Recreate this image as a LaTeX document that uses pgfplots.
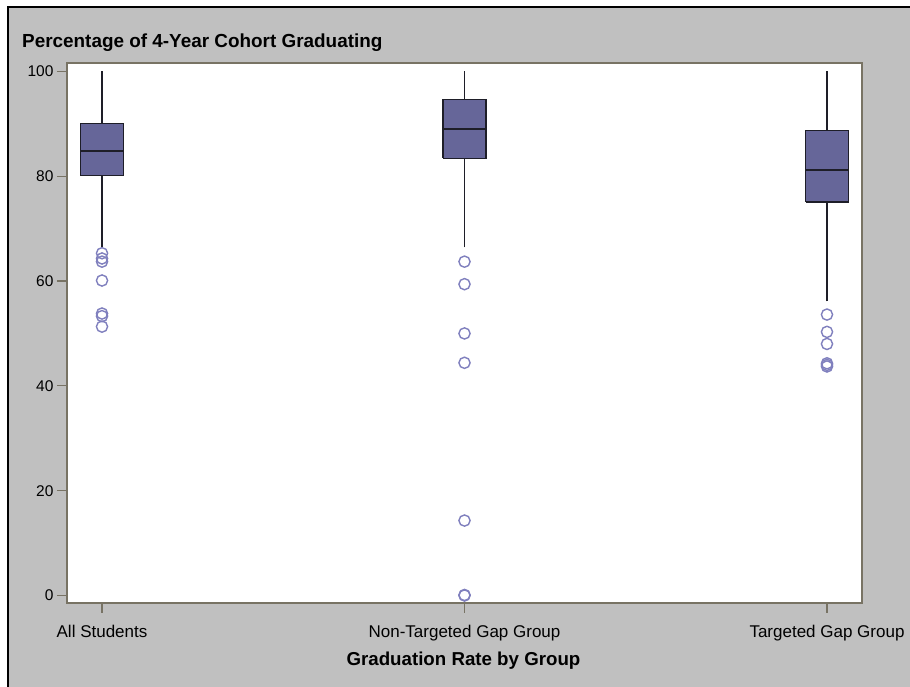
\documentclass[border=0pt]{standalone}
\usepackage{fontspec}
\setmainfont{Liberation Sans}
\usepackage{pgfplots}
\pgfplotsset{compat=1.18}
\definecolor{sasgray}{RGB}{192,192,192}
\definecolor{framecol}{RGB}{120,115,100}
\definecolor{boxfill}{RGB}{102,102,153}
\definecolor{boxedge}{RGB}{30,30,40}
\definecolor{outcol}{RGB}{128,128,190}
\begin{document}
\begin{tikzpicture}
\useasboundingbox (0bp,0bp) rectangle (910bp,687bp);
\fill[white] (0bp,0bp) rectangle (910bp,687bp);
\filldraw[fill=sasgray, draw=black, line width=1.5bp] (8bp,-10bp) rectangle (930bp,680bp);
\begin{axis}[
  at={(67bp,84bp)}, anchor=south west,
  width=795bp, height=540bp, scale only axis,
  xmin=-0.0966, xmax=2.0966, ymin=-1.43, ymax=101.6,
  axis background/.style={fill=white},
  axis line style={draw=framecol, line width=1.2bp},
  xtick={0,1,2},
  xticklabels={All Students, Non-Targeted Gap Group, Targeted Gap Group},
  ytick={0,20,40,60,80,100},
  tick align=outside, tick pos=left, major tick length=10bp,
  tick style={draw=framecol, line width=1.2bp},
  /pgf/number format/assume math mode=true,
  xticklabel style={font=\fontsize{17bp}{20bp}\selectfont, text=black, anchor=base, yshift=-25bp},
  yticklabel style={font=\fontsize{15.5bp}{18bp}\selectfont, text=black},
  title={Percentage of 4-Year Cohort Graduating},
  title style={at={(axis description cs:-0.0566,1.0306)}, anchor=base west, yshift=-7bp, font=\fontsize{18.9bp}{22bp}\selectfont\bfseries, inner sep=0pt},
  xlabel={Graduation Rate by Group},
  xlabel style={at={(axis description cs:0.4987,-0.111)}, anchor=base, yshift=-3bp, font=\fontsize{18.7bp}{22bp}\selectfont\bfseries, inner sep=0pt},
  clip=false,
]
% whiskers
\addplot[boxedge, line width=1.3bp] coordinates {(0,66.4) (0,100)};
\addplot[boxedge, line width=1.3bp] coordinates {(1,66.4) (1,100)};
\addplot[boxedge, line width=1.3bp] coordinates {(2,56.1) (2,100)};
% boxes (Q1 to Q3)
\addplot[fill=boxfill, draw=boxedge, line width=1.3bp, line join=miter] coordinates {(-0.059,80.1) (0.059,80.1) (0.059,90.0) (-0.059,90.0) (-0.059,80.1)};
\addplot[fill=boxfill, draw=boxedge, line width=1.3bp, line join=miter] coordinates {(0.941,83.4) (1.059,83.4) (1.059,94.7) (0.941,94.7) (0.941,83.4)};
\addplot[fill=boxfill, draw=boxedge, line width=1.3bp, line join=miter] coordinates {(1.941,75.1) (2.059,75.1) (2.059,88.7) (1.941,88.7) (1.941,75.1)};
% medians
\addplot[boxedge, line width=1.3bp] coordinates {(-0.059,84.8) (0.059,84.8)};
\addplot[boxedge, line width=1.3bp] coordinates {(0.941,89.0) (1.059,89.0)};
\addplot[boxedge, line width=1.3bp] coordinates {(1.941,81.2) (2.059,81.2)};
% outliers
\addplot[only marks, mark=o, mark size=5.6bp, draw=outcol, mark options={line width=1.4bp, draw=outcol}]
  coordinates {
    (0,65.3) (0,64.3) (0,63.7) (0,60.1) (0,53.8) (0,53.3) (0,51.3)
    (1,63.7) (1,59.4) (1,50.0) (1,44.4) (1,14.3) (1,0.0) (1,0.1)
    (2,53.6) (2,50.3) (2,48.0) (2,44.3) (2,44.0) (2,43.7)
  };
\end{axis}
\end{tikzpicture}
\end{document}
